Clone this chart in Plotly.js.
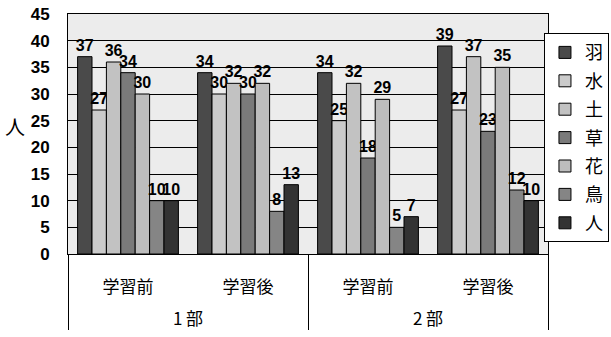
<!DOCTYPE html>
<html>
<head>
<meta charset="utf-8">
<script src="https://cdn.plot.ly/plotly-3.0.1.min.js"></script>
<style>html,body{margin:0;padding:0;background:#fff;}#chart{width:611px;height:337px;}</style>
</head>
<body>
<div id="chart"></div>
<script>
const outerCats = ["1 部", "1 部", "2 部", "2 部"];
const innerCats = ["学習前", "学習後", "学習前", "学習後"];
const seriesNames = ["羽", "水", "土", "草", "花", "鳥", "人"];
const seriesColors = ["#4a4a4a", "#cbcbcb", "#c2c2c2", "#7a7a7a", "#bdbdbd", "#858585", "#333333"];
const v_hane = [37, 34, 34, 39];
const v_mizu = [27, 30, 25, 27];
const v_tsuchi = [36, 32, 32, 37];
const v_kusa = [34, 30, 18, 23];
const v_hana = [30, 32, 29, 35];
const v_tori = [10, 8, 5, 12];
const v_hito = [10, 13, 7, 10];
const seriesValues = [v_hane, v_mizu, v_tsuchi, v_kusa, v_hana, v_tori, v_hito];
const yTicks = [0, 5, 10, 15, 20, 25, 30, 35, 40, 45];

// a leading blank line lowers the outer (部) labels, as in the reference
const outerShown = outerCats.map(s => "<br>" + s);

const traces = seriesNames.map((name, i) => ({
  type: "bar",
  name: name,
  x: [outerShown, innerCats],
  y: seriesValues[i],
  text: seriesValues[i].map(String),
  textposition: "outside",
  cliponaxis: false,
  textfont: {family: "Liberation Sans, Arial, sans-serif", size: 16, color: "#000", weight: "bold"},
  marker: {color: seriesColors[i], line: {color: "#000", width: 1}},
  legendgroup: "g" + i
}));

const layout = {
  width: 611, height: 337,
  margin: {l: 68, r: 63, t: 14, b: 83, autoexpand: false},
  paper_bgcolor: "#ffffff",
  plot_bgcolor: "#ececec",
  barmode: "group",
  bargap: 0.16,
  bargroupgap: 0,
  uniformtext: {minsize: 16, mode: "show"},
  font: {family: "Noto Sans CJK JP, Liberation Sans, sans-serif", color: "#000"},
  xaxis: {
    type: "multicategory",
    showline: true, linecolor: "#000", linewidth: 1, mirror: true,
    showdividers: true, dividercolor: "#000", dividerwidth: 1,
    tickfont: {family: "Noto Sans CJK JP, sans-serif", size: 17, color: "#000"},
    ticklabelstandoff: 18,
    ticks: "", showgrid: false
  },
  yaxis: {
    range: [0, 45],
    tickvals: yTicks,
    ticktext: yTicks.map(String),
    showline: true, linecolor: "#000", linewidth: 1, mirror: true,
    showgrid: true, gridcolor: "#000", gridwidth: 1,
    zeroline: false,
    ticks: "",
    ticklabelstandoff: 14,
    tickfont: {family: "Liberation Sans, Arial, sans-serif", size: 17, color: "#000", weight: "bold"}
  },
  legend: {
    x: 1.127, xanchor: "right", y: 0.92, yanchor: "top",
    bgcolor: "#ffffff", bordercolor: "#000", borderwidth: 1,
    font: {family: "Noto Sans CJK JP, sans-serif", size: 18, color: "#000"},
    tracegroupgap: 2,
    itemwidth: 30
  },
  annotations: [{
    text: "人", xref: "paper", yref: "paper", x: -0.11, y: 0.53,
    xanchor: "center", yanchor: "middle", showarrow: false,
    font: {family: "Noto Sans CJK JP, sans-serif", size: 20, color: "#000"}
  }]
};

Plotly.newPlot("chart", traces, layout, {displayModeBar: false, staticPlot: true});
</script>
</body>
</html>
